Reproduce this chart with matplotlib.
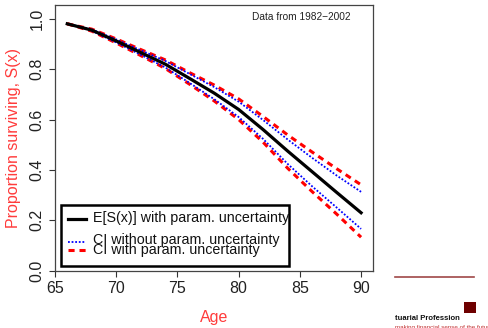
import matplotlib
matplotlib.use("Agg")
import matplotlib.pyplot as plt
from matplotlib.lines import Line2D
from matplotlib.patches import Rectangle

plt.rcParams['font.family'] = ['Liberation Sans', 'DejaVu Sans']

# survival curve and confidence bands
ages = [66, 68, 70, 72, 74, 76, 78, 80, 82, 84, 86, 88, 90]
es_x = [0.980, 0.955, 0.912, 0.866, 0.820, 0.763, 0.705, 0.640, 0.560, 0.475, 0.393, 0.311, 0.230]
ci_with_hi = [0.980, 0.959, 0.920, 0.878, 0.837, 0.786, 0.737, 0.682, 0.612, 0.539, 0.471, 0.405, 0.341]
ci_with_lo = [0.980, 0.951, 0.904, 0.854, 0.803, 0.740, 0.674, 0.600, 0.510, 0.407, 0.314, 0.225, 0.133]
ci_wo_hi = [0.980, 0.958, 0.918, 0.875, 0.833, 0.781, 0.729, 0.671, 0.598, 0.521, 0.448, 0.378, 0.313]
ci_wo_lo = [0.980, 0.952, 0.906, 0.857, 0.807, 0.745, 0.681, 0.610, 0.523, 0.424, 0.335, 0.251, 0.166]

xticks = [65, 70, 75, 80, 85, 90]
yticks = [0.0, 0.2, 0.4, 0.6, 0.8, 1.0]

fig = plt.figure(figsize=(4.88, 3.28), dpi=100)
ax = fig.add_axes([0.1127, 0.1747, 0.6513, 0.8103])

red_dash = (0, (2.0, 1.6))
blue_dot = (0, (1.0, 1.0))

ax.plot(ages, ci_with_hi, color='red', lw=2.2, ls=red_dash)
ax.plot(ages, ci_with_lo, color='red', lw=2.2, ls=red_dash)
ax.plot(ages, ci_wo_hi, color='blue', lw=1.3, ls=blue_dot)
ax.plot(ages, ci_wo_lo, color='blue', lw=1.3, ls=blue_dot)
ax.plot(ages, es_x, color='black', lw=2.3)

ax.set_xlim(65.04, 90.96)
ax.set_ylim(0, 1.055)
ax.set_xticks(xticks)
ax.set_xticklabels([str(t) for t in xticks])
ax.set_yticks(yticks)
ax.set_yticklabels(['%.1f' % t for t in yticks], rotation=90, va='center')
ax.tick_params(direction='out', length=4, width=0.8, labelsize=11.5,
               labelcolor='#222222', color='#333333')
for s in ax.spines.values():
    s.set_color('#444444')
    s.set_linewidth(0.9)

ax.set_xlabel('Age', color='#ff3b3b', fontsize=11.5, labelpad=10)
ax.set_ylabel('Proportion surviving, S(x)', color='#ff3b3b', fontsize=11.5, labelpad=6)

ax.text(0.93, 0.955, 'Data from 1982\u22122002', transform=ax.transAxes,
        ha='right', va='center', fontsize=7.3, color='#222222')

# legend drawn by hand (entries overlap as in the original)
tr = ax.transAxes
ax.add_patch(Rectangle((0.018, 0.018), 0.718, 0.228, transform=tr, fill=False,
                       edgecolor='black', lw=1.8, zorder=5))
ax.add_line(Line2D([0.04, 0.099], [0.195, 0.195], transform=tr, color='black', lw=2.3, zorder=5))
ax.add_line(Line2D([0.04, 0.099], [0.108, 0.108], transform=tr, color='blue', lw=1.3,
                   ls=blue_dot, zorder=5))
ax.add_line(Line2D([0.04, 0.099], [0.078, 0.078], transform=tr, color='red', lw=2.2,
                   ls=red_dash, zorder=5))
ax.text(0.118, 0.197, 'E[S(x)] with param. uncertainty', transform=tr, fontsize=10.3,
        va='center', color='#111111', zorder=6)
ax.text(0.118, 0.116, 'CI without param. uncertainty', transform=tr, fontsize=10.3,
        va='center', color='#111111', zorder=6)
ax.text(0.118, 0.076, 'CI with param. uncertainty', transform=tr, fontsize=10.3,
        va='center', color='#111111', zorder=6)

# bits of the slide logo at bottom right
fig.add_artist(Line2D([395 / 488, 474 / 488], [1 - 277 / 328, 1 - 277 / 328],
                      color='#a04848', lw=1.2))
fig.add_artist(Rectangle((464 / 488, 1 - 313 / 328), 12 / 488, 11 / 328,
                         facecolor='#6e0000', edgecolor='none'))
fig.text(395 / 488, 1 - 319 / 328, 'tuarial Profession', fontsize=5.5,
         fontweight='bold', va='center', color='#111111')
fig.text(395 / 488, 1 - 327.5 / 328, 'making financial sense of the future', fontsize=4.5,
         va='center', color='#c03030')

fig.savefig('out.png', dpi=100)
